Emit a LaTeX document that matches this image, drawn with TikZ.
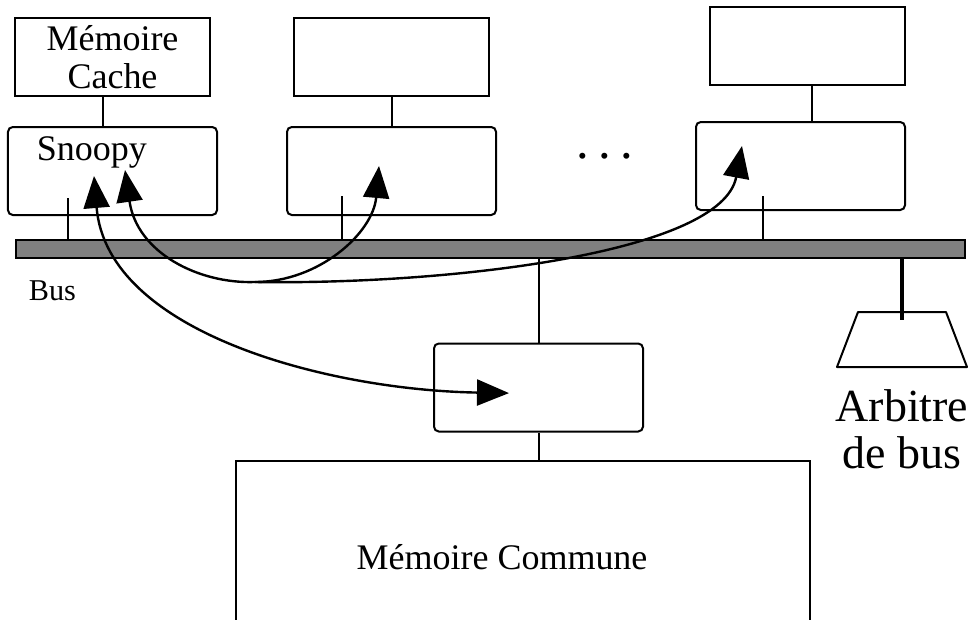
\documentclass[tikz,border=0pt]{standalone}
\usepackage{fontspec}
\setmainfont{Liberation Serif}
\usetikzlibrary{positioning,arrows.meta,shapes.geometric}
\tikzstyle{cachebox} = [rectangle, minimum width=4.875cm, minimum height=1.95cm, text centered, align=center, draw=black, line width=0.05cm]
\tikzstyle{snoopbox} = [rectangle, rounded corners=0.12cm, minimum width=5.225cm, minimum height=2.2cm, draw=black, line width=0.05cm]
\tikzstyle{busbar} = [rectangle, minimum width=23.725cm, minimum height=0.45cm, inner sep=0, draw=black, fill={rgb, 255:red, 128; green, 128; blue, 128}, line width=0.05cm]
\tikzstyle{arrow} = [line width=0.06cm, -{Triangle[length=0.8cm, width=0.65cm]}]
\tikzstyle{link} = [line width=0.05cm]

\begin{document}
\begin{tikzpicture}[every node/.style={font=\fontsize{25.6}{27}\selectfont}]
		
		\useasboundingbox (0,0) rectangle (24.35,-15.5);
		\clip (0,0) rectangle (24.35,-15.5);
		
		\node (cache1) [cachebox] at (2.8125,-1.425) {Mémoire\\Cache};
		\node (snoopy1) [snoopbox, below = 0.725cm of cache1] {};
		\node (snooplab) [anchor=base west] at ([shift={(0.625,-0.85)}]snoopy1.north west) {Snoopy};
		
		\node (cache2) [cachebox, right = 2.05cm of cache1] {};
		\node (snoopy2) [snoopbox, below = 0.725cm of cache2] {};
		
		\node (cache3) [cachebox, right = 5.475cm of cache2, yshift=0.275cm] {};
		\node (snoopy3) [snoopbox, below = 0.875cm of cache3, xshift=-0.175cm] {};
		
		\node (dots) [font=\fontsize{36}{36}\selectfont] at (15.125,-3.9) {.\hspace{6.6pt}.\hspace{6.6pt}.};
		
		\node (bus) [busbar] at (12.2625,-6.225) {};
		\node (buslab) [anchor=base west, font=\fontsize{21.5}{24}\selectfont] at ([shift={(0.225,-1.025)}]bus.south west) {Bus};
		
		\node (mid) [snoopbox] at (13.4625,-9.6875) {};
		\node (mem) [rectangle, draw=black, line width=0.05cm, minimum width=14.35cm, minimum height=4.9cm, below = 0.675cm of mid, xshift=-0.3875cm] {};
		\node (memlab) at ([xshift=-0.525cm, yshift=-2.45cm]mem.north) {Mémoire Commune};
		
		\node (arb) [rectangle, minimum width=3.25cm, minimum height=1.375cm, inner sep=0, outer sep=0] at (22.55,-8.4875) {};
		\draw [link, line join=round] ([xshift=0.525cm]arb.north west) -- ([xshift=-0.525cm]arb.north east) -- (arb.south east) -- (arb.south west) -- cycle;
		\node (arblab) [below = 0.55cm of arb, align=center, inner sep=0, font=\fontsize{32.7}{34}\selectfont] {Arbitre\\de bus};
		
		% caches to snoopy
		\draw [link] ([xshift=-0.25cm]cache1.south) -- ([xshift=-0.25cm]cache1.south |- snoopy1.north);
		\draw [link] (cache2.south) -- (cache2.south |- snoopy2.north);
		\draw [link] ([xshift=0.1cm]cache3.south) -- ([xshift=0.1cm]cache3.south |- snoopy3.north);
		
		% bus taps
		\coordinate (tick1) at ([shift={(1.525,0.45)}]snoopy1.south west);
		\coordinate (tick2) at ([shift={(1.4,0.5)}]snoopy2.south west);
		\coordinate (tick3) at ([shift={(1.7,0.375)}]snoopy3.south west);
		\draw [link] (tick1) -- (tick1 |- bus.north);
		\draw [link] (tick2) -- (tick2 |- bus.north);
		\draw [link] (tick3) -- (tick3 |- bus.north);
		
		\draw [link] (bus.south -| mid.north) -- (mid.north);
		\draw [link] (mid.south) -- (mid.south |- mem.north);
		\draw [line width=0.1cm] (bus.south -| arb.north) -- ([yshift=-0.2cm]arb.north);
		
		% snooping arrows
		\coordinate (hub) at ([shift={(6.0,-0.575)}]bus.south west);
		\coordinate (tip1a) at ([shift={(2.175,1.0)}]snoopy1.south west);
		\coordinate (tip1b) at ([shift={(2.95,1.15)}]snoopy1.south west);
		\coordinate (tip2) at ([shift={(2.325,1.25)}]snoopy2.south west);
		\coordinate (tip3) at ([shift={(1.175,1.625)}]snoopy3.south west);
		\coordinate (tipm) at ([shift={(1.9,-0.14)}]mid.west);
		
		\draw [arrow] (hub) .. controls +(-1.4,-0.05) and +(0.3,-2.075) .. (tip1b);
		\draw [arrow] (hub) .. controls +(1.6,0) and +(-0.15,-1.675) .. (tip2);
		\draw [arrow] (hub) .. controls +(4.85,-0.075) and +(-0.5,-2.675) .. (tip3);
		\draw [arrow, {Triangle[length=0.8cm, width=0.65cm]}-{Triangle[length=0.8cm, width=0.65cm]}] (tip1a) .. controls +(0.325,-3.925) and +(-4.5,0.075) .. (tipm);
		
\end{tikzpicture}
\end{document}
